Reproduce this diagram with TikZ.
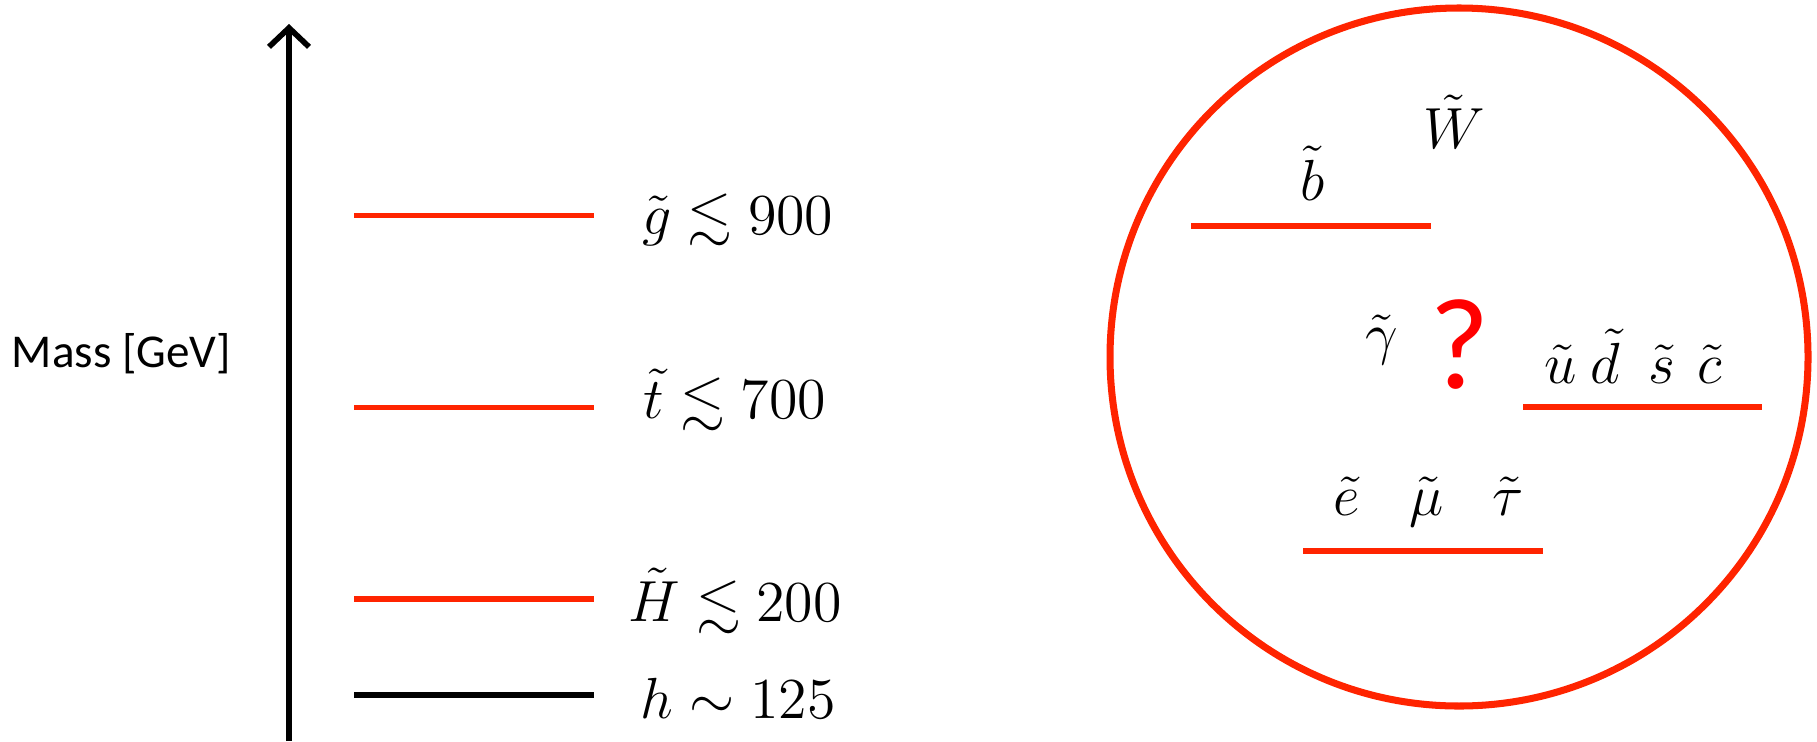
\documentclass[tikz,border=0pt]{standalone}
\usepackage{fix-cm}
\usepackage{fontspec}
\newfontfamily\calibfont{Carlito}
\usepackage{tikz}
\usetikzlibrary{arrows.meta}
\definecolor{lvlred}{RGB}{255,36,0}
\definecolor{qred}{RGB}{255,0,0}
\newcommand{\lsim}{\mathrel{\rlap{\lower0.8ex\hbox{$\sim$}}\raise0.4ex\hbox{$<$}}}

\begin{document}
\begin{tikzpicture}[>=Latex,
  mline/.style={draw=lvlred,line width=1.6pt},
  mlab/.style={anchor=base,inner sep=0pt,font=\fontsize{16.5}{20}\selectfont}]
\useasboundingbox (0,0) rectangle (18.17,7.41);
\draw[line width=1.6pt,-{Straight Barb[length=1.9mm,width=4mm]}] (2.89,0) -- (2.89,7.17);
\node[anchor=base,inner sep=0pt,font=\calibfont\fontsize{13.4}{16}\selectfont] (mass) at (1.215,3.74) {Mass [GeV]};
\draw[mline] (3.54,5.255) -- (5.94,5.255);
\draw[mline] (3.54,3.335) -- (5.94,3.335);
\draw[mline] (3.54,1.42) -- (5.94,1.42);
\draw[line width=1.6pt] (3.54,0.46) -- (5.94,0.46);
\node[mlab] (gluino) at (7.38,5.07) {$\tilde{g}\lsim 900$};
\node[mlab] (stop) at (7.35,3.23) {$\tilde{t}\lsim 700$};
\node[mlab] (higgsino) at (7.35,1.20) {$\tilde{H}\lsim 200$};
\node[mlab] (higgs) at (7.38,0.23) {$h\sim 125$};
\draw[lvlred,line width=2pt] (14.59,3.84) circle (3.49);
\draw[mline] (11.91,5.15) -- (14.31,5.15);
\draw[mline] (15.23,3.34) -- (17.62,3.34);
\draw[mline] (13.03,1.90) -- (15.43,1.90);
\node[mlab] (sbot) at (13.13,5.41) {$\tilde{b}$};
\node[mlab] (wino) at (14.54,5.93) {$\tilde{W}$};
\node[mlab] (photino) at (13.82,3.88) {$\tilde{\gamma}$};
\node[anchor=base,inner sep=0pt,text=qred,font=\calibfont\fontsize{37}{42}\selectfont] (what) at (14.60,3.53) {?};
\node[mlab] (squarks) at (16.335,3.58) {$\tilde{u}\mkern4mu\tilde{d}\mkern9mu\tilde{s}\mkern7mu\tilde{c}$};
\node[mlab] (sleptons) at (14.29,2.26) {$\tilde{e}\hspace{0.85em}\tilde{\mu}\hspace{0.85em}\tilde{\tau}$};
\end{tikzpicture}
\end{document}
